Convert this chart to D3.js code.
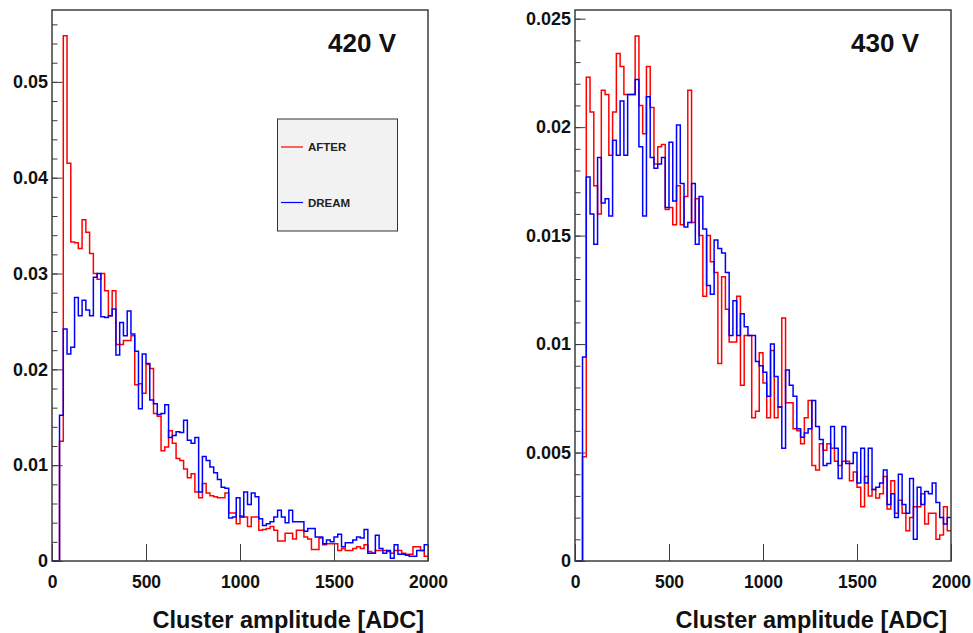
<!DOCTYPE html>
<html>
<head>
<meta charset="utf-8">
<script src="https://cdn.jsdelivr.net/npm/d3@7"></script>
<style>
  body { margin: 0; background: #fff; }
  svg { display: block; font-family: "Liberation Sans", Arial, sans-serif; font-weight: bold; }
</style>
</head>
<body>
<script>
// bin low edges in ADC, 20 ADC per bin
const binLow = d3.range(0, 2000, 20);
const xTicks = [0, 500, 1000, 1500, 2000];

const after420 = [
  0, 0, 0.0125, 0.0548, 0.0415, 0.0333, 0.0332, 0.0326, 0.0356, 0.0343,
  0.0321, 0.0300, 0.0294, 0.0300, 0.0282, 0.0256, 0.0282, 0.0226, 0.0226, 0.0230,
  0.0230, 0.0235, 0.0184, 0.0185, 0.0175, 0.0205, 0.0201, 0.0154, 0.0151, 0.0115,
  0.0119, 0.0136, 0.0123, 0.0107, 0.0105, 0.0096, 0.0087, 0.0091, 0.0072, 0.0066,
  0.0081, 0.0071, 0.0068, 0.0067, 0.0066, 0.0066, 0.0071, 0.0050, 0.0050, 0.0039,
  0.0047, 0.0046, 0.0036, 0.0046, 0.0046, 0.0032, 0.0033, 0.0034, 0.0036, 0.0032,
  0.0021, 0.0021, 0.0029, 0.0029, 0.0023, 0.0032, 0.0032, 0.0025, 0.0023, 0.0012,
  0.0012, 0.0024, 0.0017, 0.0018, 0.0018, 0.0018, 0.0011, 0.0013, 0.0011, 0.0011,
  0.0013, 0.0015, 0.0013, 0.0017, 0.0010, 0.0008, 0.0011, 0.0011, 0.0011, 0.0010,
  0.0008, 0.0011, 0.0011, 0.0008, 0.0007, 0.0007, 0.0015, 0.0015, 0.0011, 0.0005
];
const dream420 = [
  0, 0, 0.0152, 0.0242, 0.0216, 0.0223, 0.0275, 0.0256, 0.0272, 0.0262,
  0.0256, 0.0296, 0.0300, 0.0255, 0.0254, 0.0256, 0.0263, 0.0215, 0.0249, 0.0235,
  0.0261, 0.0237, 0.0219, 0.0159, 0.0216, 0.0206, 0.0168, 0.0164, 0.0153, 0.0154,
  0.0163, 0.0129, 0.0131, 0.0135, 0.0134, 0.0147, 0.0126, 0.0123, 0.0129, 0.0072,
  0.0109, 0.0105, 0.0098, 0.0092, 0.0085, 0.0077, 0.0076, 0.0045, 0.0046, 0.0066,
  0.0046, 0.0072, 0.0059, 0.0071, 0.0067, 0.0044, 0.0037, 0.0039, 0.0041, 0.0046,
  0.0053, 0.0046, 0.0040, 0.0053, 0.0041, 0.0041, 0.0041, 0.0031, 0.0034, 0.0034,
  0.0025, 0.0025, 0.0018, 0.0022, 0.0020, 0.0025, 0.0028, 0.0015, 0.0019, 0.0019,
  0.0022, 0.0025, 0.0024, 0.0033, 0.0008, 0.0008, 0.0027, 0.0013, 0.0008, 0.0011,
  0.0003, 0.0017, 0.0007, 0.0007, 0.0006, 0.0005, 0.0005, 0.0011, 0.0011, 0.0017
];
const after430 = [
  0, 0, 0.0048, 0.0223, 0.0207, 0.0173, 0.0160, 0.0217, 0.0215, 0.0187,
  0.0207, 0.0234, 0.0228, 0.0215, 0.0215, 0.0215, 0.0242, 0.0210, 0.0197, 0.0228,
  0.0209, 0.0183, 0.0191, 0.0192, 0.0162, 0.0163, 0.0155, 0.0173, 0.0155, 0.0168,
  0.0217, 0.0156, 0.0167, 0.0150, 0.0122, 0.0150, 0.0138, 0.0133, 0.0091, 0.0131,
  0.0116, 0.0101, 0.0101, 0.0122, 0.0081, 0.0104, 0.0104, 0.0066, 0.0069, 0.0096,
  0.0082, 0.0066, 0.0097, 0.0066, 0.0071, 0.0112, 0.0073, 0.0073, 0.0061, 0.0060,
  0.0054, 0.0066, 0.0074, 0.0044, 0.0042, 0.0054, 0.0051, 0.0054, 0.0052, 0.0046,
  0.0044, 0.0046, 0.0046, 0.0037, 0.0041, 0.0034, 0.0025, 0.0039, 0.0030, 0.0033,
  0.0029, 0.0031, 0.0039, 0.0024, 0.0037, 0.0022, 0.0028, 0.0022, 0.0014, 0.0020,
  0.0025, 0.0025, 0.0031, 0.0017, 0.0022, 0.0022, 0.0010, 0.0012, 0.0025, 0.0014
];
const dream430 = [
  0, 0, 0.0094, 0.0177, 0.0160, 0.0146, 0.0186, 0.0165, 0.0167, 0.0159,
  0.0194, 0.0187, 0.0212, 0.0187, 0.0215, 0.0215, 0.0222, 0.0191, 0.0159, 0.0214,
  0.0186, 0.0181, 0.0183, 0.0186, 0.0163, 0.0193, 0.0166, 0.0201, 0.0174, 0.0154,
  0.0156, 0.0174, 0.0146, 0.0168, 0.0153, 0.0127, 0.0123, 0.0148, 0.0144, 0.0142,
  0.0133, 0.0104, 0.0120, 0.0104, 0.0114, 0.0108, 0.0104, 0.0104, 0.0092, 0.0090,
  0.0087, 0.0076, 0.0100, 0.0085, 0.0071, 0.0052, 0.0088, 0.0081, 0.0076, 0.0061,
  0.0057, 0.0059, 0.0061, 0.0074, 0.0062, 0.0056, 0.0044, 0.0045, 0.0062, 0.0052,
  0.0038, 0.0062, 0.0045, 0.0045, 0.0050, 0.0036, 0.0052, 0.0036, 0.0052, 0.0033,
  0.0034, 0.0036, 0.0042, 0.0026, 0.0031, 0.0020, 0.0040, 0.0026, 0.0022, 0.0038,
  0.0010, 0.0034, 0.0026, 0.0032, 0.0031, 0.0036, 0.0027, 0.0020, 0.0017, 0.0020
];

const leftYTicks = [0, 0.01, 0.02, 0.03, 0.04, 0.05];
const rightYTicks = [0, 0.005, 0.01, 0.015, 0.02, 0.025];
const legendLabels = ["AFTER", "DREAM"];
const seriesColors = ["#ff0000", "#0000ff"];

const width = 973;
const height = 633;
const frameColor = "#3c3c3c";

const svg = d3.create("svg")
  .attr("width", width)
  .attr("height", height)
  .attr("viewBox", [0, 0, width, height]);

function drawPanel({left, top, w, h, yMax, yTicks, minorStep, after, dream, label, legend}) {
  const x = d3.scaleLinear([0, 2000], [left, left + w]);
  const y = d3.scaleLinear([0, yMax], [top + h, top]);
  const g = svg.append("g");

  // minor y ticks
  g.append("g")
    .attr("transform", `translate(${left},0)`)
    .call(d3.axisLeft(y).tickValues(d3.range(0, yMax, minorStep)).tickSize(-5.5).tickFormat(""))
    .call(a => a.select(".domain").remove())
    .call(a => a.selectAll("line").attr("stroke", frameColor));

  const yFmt = d => d === 0 ? "0" : String(+d.toFixed(3));
  g.append("g")
    .attr("transform", `translate(${left},0)`)
    .call(d3.axisLeft(y).tickValues(yTicks).tickSizeInner(-10.5).tickSizeOuter(0).tickPadding(4).tickFormat(yFmt))
    .call(a => a.select(".domain").remove())
    .call(a => a.selectAll("line").attr("stroke", frameColor))
    .call(a => a.selectAll("text")
      .attr("fill", "#111")
      .attr("font-size", 18)
      .attr("font-weight", "bold")
      .attr("font-family", "Liberation Sans, Arial, sans-serif"));

  g.append("g")
    .attr("transform", `translate(0,${top + h})`)
    .call(d3.axisBottom(x).tickValues(xTicks).tickSizeInner(-17).tickSizeOuter(0).tickPadding(15).tickFormat(d3.format("d")))
    .call(a => a.select(".domain").remove())
    .call(a => a.selectAll("line").attr("stroke", frameColor))
    .call(a => a.selectAll("text")
      .attr("fill", "#111")
      .attr("font-size", 17.5)
      .attr("font-weight", "bold")
      .attr("font-family", "Liberation Sans, Arial, sans-serif"));

  const line = d3.line()
    .x(d => x(d[0]))
    .y(d => y(d[1]))
    .curve(d3.curveStepAfter);

  [after, dream].forEach((vals, k) => {
    const pts = binLow.map((b, i) => [b, vals[i]]);
    pts.push([2000, vals[vals.length - 1]]);
    g.append("path")
      .attr("d", line(pts))
      .attr("fill", "none")
      .attr("stroke", seriesColors[k])
      .attr("stroke-width", 1.5)
      .attr("stroke-linejoin", "miter");
  });

  g.append("rect")
    .attr("x", left)
    .attr("y", top)
    .attr("width", w)
    .attr("height", h)
    .attr("fill", "none")
    .attr("stroke", frameColor)
    .attr("stroke-width", 1.5);

  g.append("text")
    .attr("x", left + w - 32)
    .attr("y", top + 42)
    .attr("text-anchor", "end")
    .attr("font-size", 26)
    .attr("fill", "#111")
    .text(label);

  g.append("text")
    .attr("x", left + w - 4)
    .attr("y", top + h + 67)
    .attr("text-anchor", "end")
    .attr("font-size", 23.5)
    .attr("fill", "#111")
    .text("Cluster amplitude [ADC]");

  if (legend) {
    const lg = g.append("g").attr("transform", `translate(${legend.x},${legend.y})`);
    lg.append("rect")
      .attr("width", 120)
      .attr("height", 112)
      .attr("fill", "#f2f2f2")
      .attr("stroke", "#333")
      .attr("stroke-width", 1);
    legendLabels.forEach((name, k) => {
      const ly = 28 + k * 55.5;
      lg.append("line")
        .attr("x1", 3.5).attr("x2", 25.5)
        .attr("y1", ly).attr("y2", ly)
        .attr("stroke", seriesColors[k])
        .attr("stroke-width", 1.2);
      lg.append("text")
        .attr("x", 30.5)
        .attr("y", ly)
        .attr("dy", "0.36em")
        .attr("font-size", 11.5)
        .attr("fill", "#222")
        .text(name);
    });
  }
}

drawPanel({
  left: 52, top: 10, w: 376, h: 551,
  yMax: 0.0575, yTicks: leftYTicks, minorStep: 0.002,
  after: after420, dream: dream420, label: "420 V",
  legend: {x: 277.5, y: 119}
});

drawPanel({
  left: 575, top: 10, w: 376, h: 551,
  yMax: 0.0254, yTicks: rightYTicks, minorStep: 0.001,
  after: after430, dream: dream430, label: "430 V"
});

document.body.append(svg.node());
</script>
</body>
</html>
